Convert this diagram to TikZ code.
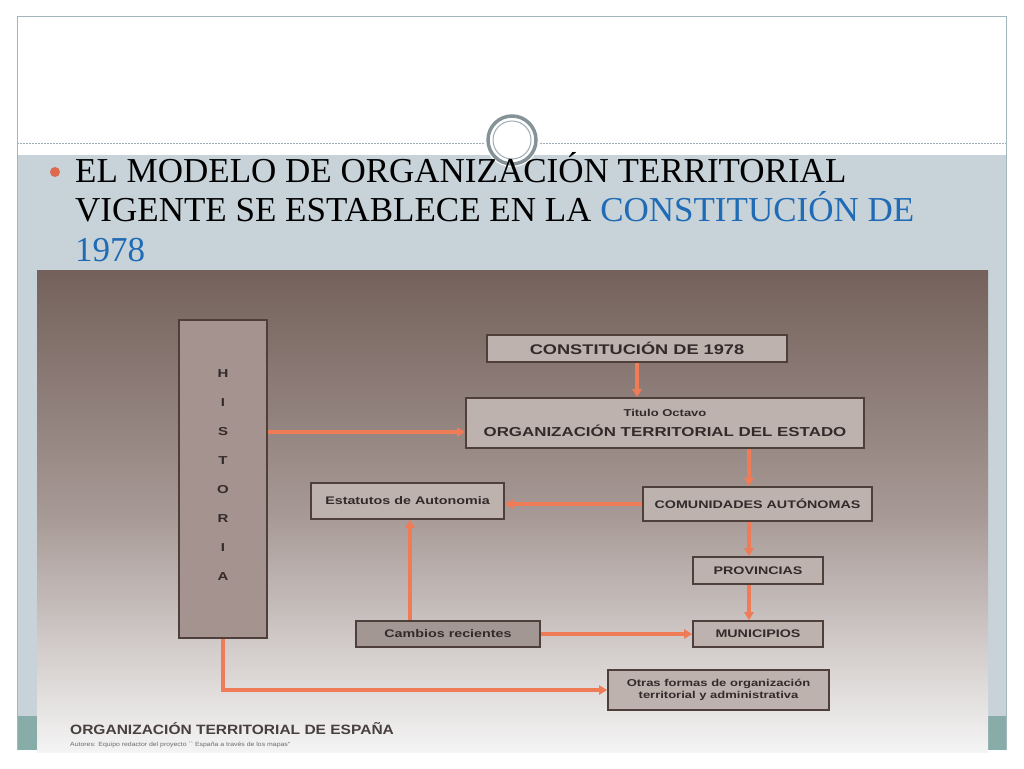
\documentclass[tikz,border=0pt]{standalone}
\usepackage{fontspec}
\setmainfont{Liberation Serif}
\newfontfamily\boxfont[FakeStretch=1.3]{Liberation Sans}
\newfontfamily\capfont[FakeStretch=1.15]{Liberation Sans}
\usetikzlibrary{arrows.meta}
\definecolor{framec}{HTML}{A3B5BC}
\definecolor{bandc}{HTML}{C8D3D9}
\definecolor{tealc}{HTML}{88ACA8}
\definecolor{dashc}{HTML}{9DADB3}
\definecolor{bluec}{HTML}{1F6BB5}
\definecolor{bulletc}{HTML}{DD6A4C}
\definecolor{arrowc}{HTML}{EF7B57}
\definecolor{boxfill}{HTML}{BEB2AF}
\definecolor{boxdraw}{HTML}{4F3F3A}
\definecolor{histfill}{HTML}{A4938F}
\definecolor{cambfill}{HTML}{A39793}
\definecolor{boxtext}{HTML}{332B2A}
\definecolor{gradtop}{HTML}{74615B}
\definecolor{gradmid}{HTML}{A69894}
\definecolor{gradbot}{HTML}{F4F4F4}
\tikzset{
  dbox/.style={draw=boxdraw, line width=1.6pt, fill=boxfill, text=boxtext,
    inner sep=2pt, font=\boxfont\bfseries\fontsize{11}{13}\selectfont, align=center},
  arr/.style={draw=arrowc, line width=3.4pt, -{Triangle[length=8pt,width=9pt]}},
}
\begin{document}
\begin{tikzpicture}[x=1pt,y=1pt]
\useasboundingbox (0,0) rectangle (1024,768);
\fill[white] (0,0) rectangle (1024,768);
% slide band
\fill[bandc] (17,18) rectangle (1006,613);
\fill[tealc] (17,18) rectangle (37,52);
\fill[tealc] (988,18) rectangle (1006,52);
% frame
\draw[framec, line width=1pt] (17,18) -- (17,751) -- (1006,751) -- (1006,18);
% dashed separator
\draw[dashc, line width=0.8pt, dash pattern=on 2pt off 1pt] (17,625) -- (484,625);
\draw[dashc, line width=0.8pt, dash pattern=on 2pt off 1pt] (540,625) -- (1006,625);
% circle ornament
\fill[white] (512,628) circle (27);
\draw[dashc!85!black, line width=3.5pt] (512,628) circle (24);
\draw[dashc, line width=1pt] (512,628) circle (19);
% bullet and title text
\fill[bulletc] (55,596) circle (5);
\node[anchor=base west, inner sep=0pt, font=\fontsize{35}{40}\selectfont] (l1) at (75,585) {EL MODELO DE ORGANIZACIÓN TERRITORIAL};
\node[anchor=base west, inner sep=0pt, font=\fontsize{35}{40}\selectfont] (l2) at (75,546) {VIGENTE SE ESTABLECE EN LA \textcolor{bluec}{CONSTITUCIÓN DE}};
\node[anchor=base west, inner sep=0pt, font=\fontsize{35}{40}\selectfont, text=bluec] (l3) at (75,506) {1978};
% picture background
\fill[top color=gradtop, bottom color=gradbot, middle color=gradmid] (37,16) rectangle (988,497);
% boxes
\node[dbox, fill=histfill, minimum width=88pt, minimum height=318pt,
      font=\boxfont\bfseries\fontsize{11.5}{29}\selectfont] (hist) at (223,289)
      {H\\I\\S\\T\\O\\R\\I\\A\\[-22pt]};
\node[dbox, minimum width=300pt, minimum height=27pt,
      font=\boxfont\bfseries\fontsize{14}{16}\selectfont] (const) at (637,419.5) {CONSTITUCIÓN DE 1978};
\node[dbox, minimum width=398pt, minimum height=50pt] (tit) at (665,345)
      {{\fontsize{10}{12}\selectfont Titulo Octavo}\\[7pt]{\fontsize{13}{15}\selectfont ORGANIZACIÓN TERRITORIAL DEL ESTADO}};
\node[dbox, minimum width=193pt, minimum height=36pt] (estat) at (407.5,267) {Estatutos de Autonomia};
\node[dbox, minimum width=229pt, minimum height=34pt] (comun) at (757.5,264) {COMUNIDADES AUTÓNOMAS};
\node[dbox, minimum width=130pt, minimum height=27pt] (prov) at (758,197.5) {PROVINCIAS};
\node[dbox, fill=cambfill, minimum width=184pt, minimum height=26pt] (camb) at (448,134) {Cambios recientes};
\node[dbox, minimum width=130pt, minimum height=26pt] (muni) at (758,134) {MUNICIPIOS};
\node[dbox, minimum width=221pt, minimum height=40pt,
      font=\boxfont\bfseries\fontsize{10}{12}\selectfont] (otras) at (718.5,78)
      {Otras formas de organización\\territorial y administrativa};
% helper coordinates
\coordinate (hy) at (0,336);
\coordinate (vx) at (749,0);
\coordinate (cx) at (410,0);
% connectors
\draw[arr] (hist.east |- hy) -- (tit.west |- hy);
\draw[arr] (const.south) -- (const.south |- tit.north);
\draw[arr] (tit.south -| vx) -- (comun.north -| vx);
\draw[arr] (comun.west) -- (comun.west -| estat.east);
\draw[arr] (comun.south -| vx) -- (prov.north -| vx);
\draw[arr] (prov.south -| vx) -- (muni.north -| vx);
\draw[arr] (camb.north -| cx) -- (estat.south -| cx);
\draw[arr] (camb.east) -- (muni.west);
\draw[arr] (hist.south) |- (otras.west);
% caption
\node[anchor=base west, inner sep=0pt, text=boxtext!90!white,
      font=\capfont\bfseries\fontsize{13.5}{15}\selectfont] (cap1) at (70,34) {ORGANIZACIÓN TERRITORIAL DE ESPAÑA};
\node[anchor=base west, inner sep=0pt, text=boxtext!70!white,
      font=\capfont\fontsize{6}{7}\selectfont] (cap2) at (70,22) {Autores: Equipo redactor del proyecto `` España a través de los mapas''};
\end{tikzpicture}
\end{document}
